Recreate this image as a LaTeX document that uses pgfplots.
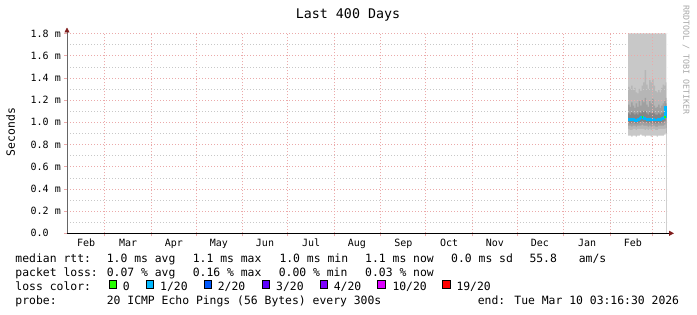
\documentclass[border=0pt]{standalone}
\usepackage{pgfplots}
\pgfplotsset{compat=1.18}
\usepackage{pgfplotstable}
\usepackage{fontspec}
\usetikzlibrary{arrows.meta}
\newfontfamily\mono{DejaVu Sans Mono}
\newcommand\legfont{\mono\fontsize{11.4pt}{13pt}\selectfont}
\newcommand\tickfont{\mono\fontsize{10pt}{12pt}\selectfont}
\newcommand\titlefont{\mono\fontsize{13.3pt}{15pt}\selectfont}
\newcommand\tinyfont{\mono\fontsize{8.3pt}{10pt}\selectfont}
\definecolor{smokeA}{HTML}{C8C8C8}
\definecolor{smokeB}{HTML}{B6B6B6}
\definecolor{smokeC}{HTML}{A0A0A0}
\definecolor{smokeD}{HTML}{858585}
\definecolor{loss0}{HTML}{26FF00}
\definecolor{loss1}{HTML}{00B8FF}
\definecolor{loss2}{HTML}{0059FF}
\definecolor{loss3}{HTML}{5E00FF}
\definecolor{loss4}{HTML}{7E00FF}
\definecolor{loss10}{HTML}{DD00FF}
\definecolor{loss19}{HTML}{FF0000}
\definecolor{mgrid}{HTML}{EBAAAA}
\definecolor{sgrid}{HTML}{C8C8C8}
\definecolor{arrowred}{HTML}{801E1E}
\definecolor{brand}{HTML}{A8A8A8}

\pgfplotstableread{
x     u1   u2   u3   u4   med  l4   l3   l2   l1
374   1.8  1.32 1.16 1.08 1.03 1.00 0.97 0.94 0.88
375   1.8  1.30 1.14 1.07 1.02 0.99 0.97 0.93 0.88
376   1.8  1.33 1.18 1.09 1.02 0.99 0.96 0.93 0.87
377   1.8  1.29 1.15 1.08 1.03 1.00 0.97 0.94 0.88
378   1.8  1.31 1.13 1.07 1.02 0.99 0.97 0.94 0.88
379   1.8  1.27 1.17 1.08 1.01 0.99 0.96 0.93 0.87
380   1.8  1.26 1.14 1.07 1.02 0.99 0.97 0.94 0.88
381   1.8  1.30 1.19 1.09 1.03 1.00 0.97 0.94 0.88
382   1.8  1.28 1.15 1.08 1.04 1.00 0.97 0.94 0.89
383   1.8  1.33 1.20 1.10 1.05 1.01 0.98 0.94 0.88
384   1.8  1.36 1.18 1.09 1.04 1.00 0.97 0.94 0.88
385   1.8  1.47 1.22 1.10 1.03 1.00 0.97 0.93 0.87
386   1.8  1.34 1.16 1.08 1.03 1.00 0.97 0.94 0.88
387   1.8  1.30 1.14 1.07 1.02 0.99 0.96 0.93 0.88
388   1.8  1.38 1.19 1.09 1.03 1.00 0.97 0.94 0.88
389   1.8  1.36 1.17 1.08 1.02 0.99 0.96 0.93 0.87
390   1.8  1.39 1.21 1.10 1.03 1.00 0.97 0.94 0.88
391   1.8  1.33 1.15 1.08 1.02 0.99 0.97 0.94 0.88
392   1.8  1.28 1.13 1.07 1.02 0.99 0.96 0.93 0.88
393   1.8  1.27 1.14 1.07 1.02 0.99 0.96 0.93 0.87
394   1.8  1.29 1.16 1.08 1.03 1.00 0.97 0.94 0.88
395   1.8  1.27 1.13 1.07 1.02 0.99 0.97 0.94 0.88
396   1.8  1.31 1.15 1.08 1.03 1.00 0.97 0.94 0.88
397   1.8  1.34 1.17 1.09 1.04 1.00 0.97 0.94 0.88
398   1.8  1.33 1.19 1.10 1.05 1.01 0.98 0.94 0.89
399   1.8  1.36 1.22 1.17 1.14 1.05 1.00 0.95 0.90
399.5 1.8  1.36 1.22 1.17 1.14 1.05 1.00 0.95 0.90
}\smoke

\begin{document}
\begin{tikzpicture}
\useasboundingbox (0,0) rectangle (697pt,315pt);
\begin{axis}[
  at={(67pt,81.7pt)}, anchor=south west,
  scale only axis, width=600pt, height=199.8pt,
  xmin=0, xmax=400, ymin=0, ymax=1.8,
  axis lines=left, axis on top,
  x axis line style={draw=black, line width=0.8pt, -{Triangle[width=5pt,length=5pt,color=arrowred]}, shorten >=-7pt},
  y axis line style={draw=gray!80!black, line width=0.8pt, -{Triangle[width=5pt,length=5pt,color=arrowred]}, shorten >=-6pt},
  tick align=outside, major tick length=3pt,
  tick style={draw=mgrid, line width=0.6pt},
  xtick={25,56,86,117,147,178,209,239,270,300,331,362,390},
  xticklabels={},
  xmajorgrids,
  extra x ticks={12.7,40.7,71.3,101.3,132,162.7,193.3,224.3,254.7,285.3,315.3,346.7,377.3},
  extra x tick labels={Feb,Mar,Apr,May,Jun,Jul,Aug,Sep,Oct,Nov,Dec,Jan,Feb},
  extra x tick style={grid=none, major tick length=0pt,
     xticklabel style={font=\tickfont, anchor=base, inner sep=0pt, yshift=-13.2pt}},
  ytick={0,0.2,0.4,0.6,0.8,1.0,1.2,1.4,1.6,1.8},
  yticklabels={0.0\hphantom{~m},0.2~m,0.4~m,0.6~m,0.8~m,1.0~m,1.2~m,1.4~m,1.6~m,1.8~m},
  yticklabel style={font=\tickfont, anchor=east, inner sep=0pt, xshift=-3pt},
  ymajorgrids, minor y tick num=1, yminorgrids,
  major grid style={draw=mgrid, line width=0.5pt, dash pattern=on 1pt off 2pt},
  minor grid style={draw=sgrid, line width=0.5pt, dash pattern=on 1pt off 2pt},
  minor tick length=0pt,
  clip=true,
]
\addplot[const plot, fill=smokeA, draw=none] table[x=x,y=u1]{\smoke} \closedcycle;
\addplot[const plot, fill=smokeB, draw=none] table[x=x,y=u2]{\smoke} \closedcycle;
\addplot[const plot, fill=smokeC, draw=none] table[x=x,y=u3]{\smoke} \closedcycle;
\addplot[const plot, fill=smokeD, draw=none] table[x=x,y=u4]{\smoke} \closedcycle;
\addplot[const plot, fill=smokeC, draw=none] table[x=x,y=l4]{\smoke} \closedcycle;
\addplot[const plot, fill=smokeB, draw=none] table[x=x,y=l3]{\smoke} \closedcycle;
\addplot[const plot, fill=smokeA, draw=none] table[x=x,y=l2]{\smoke} \closedcycle;
\addplot[const plot, fill=white, draw=none] table[x=x,y=l1]{\smoke} \closedcycle;
\addplot[const plot, draw=loss1, line width=2.4pt] table[x=x,y=med]{\smoke};
\addplot[const plot, draw=loss0, line width=2.4pt] coordinates {(383,1.05)(384,1.05)};
\addplot[const plot, draw=loss0, line width=2.4pt] coordinates {(398,1.05)(399,1.05)};
\end{axis}

% title and side texts
\node[font=\titlefont, anchor=base, inner sep=0pt] at (348pt,296.7pt) {Last 400 Days};
\node[font=\legfont, rotate=90, inner sep=0pt] at (10.5pt,183pt) {Seconds};
\node[font=\tinyfont, text=brand, rotate=-90, inner sep=0pt] at (686pt,255pt) {RRDTOOL / TOBI OETIKER};

% legend rows
\begin{scope}[every node/.style={font=\legfont, anchor=base west, inner sep=0pt}]
\node at (15.3pt,52.2pt) {median rtt:};
\node at (106.6pt,52.2pt) {1.0 ms avg};
\node at (192.6pt,52.2pt) {1.1 ms max};
\node at (279.3pt,52.2pt) {1.0 ms min};
\node at (365pt,52.2pt) {1.1 ms now};
\node at (451pt,52.2pt) {0.0 ms sd};
\node at (529.3pt,52.2pt) {55.8};
\node at (578.6pt,52.2pt) {am/s};

\node at (15.3pt,38.2pt) {packet loss:};
\node at (106.6pt,38.2pt) {0.07 \% avg};
\node at (192.6pt,38.2pt) {0.16 \% max};
\node at (278.6pt,38.2pt) {0.00 \% min};
\node at (365pt,38.2pt) {0.03 \% now};

\node at (15.3pt,24.2pt) {loss color:};
\node at (122.6pt,24.2pt) {0};
\node at (160pt,24.2pt) {1/20};
\node at (217.6pt,24.2pt) {2/20};
\node at (276pt,24.2pt) {3/20};
\node at (333.6pt,24.2pt) {4/20};
\node at (392.3pt,24.2pt) {10/20};
\node at (456.3pt,24.2pt) {19/20};

\node at (15.3pt,10.2pt) {probe:};
\node at (106.6pt,10.2pt) {20 ICMP Echo Pings (56 Bytes) every 300s};
\node at (477.6pt,10.2pt) {end: Tue Mar 10 03:16:30 2026};
\end{scope}

\begin{scope}[line width=0.8pt, draw=black]
\draw[fill=loss0]  (109pt,27pt) rectangle (116.3pt,34.3pt);
\draw[fill=loss1]  (146pt,27pt) rectangle (153.3pt,34.3pt);
\draw[fill=loss2]  (204pt,27pt) rectangle (211.3pt,34.3pt);
\draw[fill=loss3]  (262.3pt,27pt) rectangle (269.6pt,34.3pt);
\draw[fill=loss4]  (320pt,27pt) rectangle (327.3pt,34.3pt);
\draw[fill=loss10] (377.6pt,27pt) rectangle (384.9pt,34.3pt);
\draw[fill=loss19] (442.8pt,27pt) rectangle (450.1pt,34.3pt);
\end{scope}
\end{tikzpicture}
\end{document}
